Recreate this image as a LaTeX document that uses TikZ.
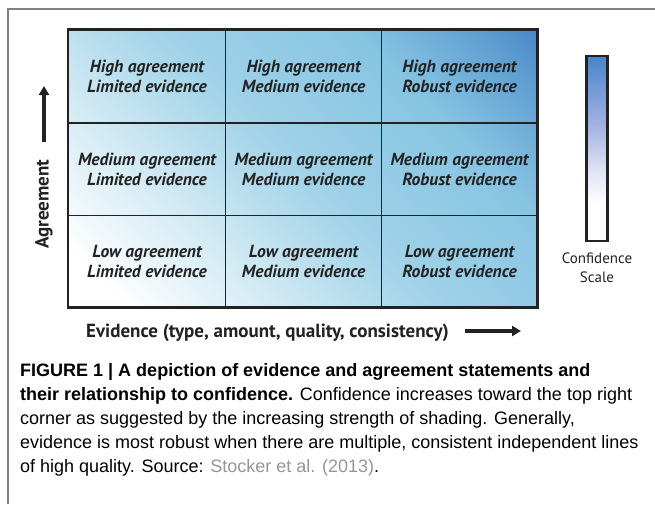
\documentclass[tikz,border=0pt]{standalone}
\usepackage{fontspec}
\setmainfont{Liberation Sans}
\newfontfamily\diagfont{PT Sans}
\usepackage{xcolor}
\usetikzlibrary{arrows.meta}

\definecolor{framegray}{RGB}{128,128,128}
\definecolor{inkdark}{RGB}{34,34,34}
\definecolor{shadeA}{RGB}{212,235,244}
\definecolor{shadeB}{RGB}{160,210,232}
\definecolor{shadeC}{RGB}{135,196,226}
\definecolor{shadeD}{RGB}{62,125,195}
\definecolor{barmid}{RGB}{165,178,226}
\definecolor{bartop}{RGB}{72,132,202}
\definecolor{srcgray}{RGB}{150,150,150}

\pgfdeclareverticalshading{confgrid}{100bp}{color(0bp)=(white); color(20bp)=(white); color(34bp)=(shadeA); color(50bp)=(shadeB); color(68bp)=(shadeC); color(80bp)=(shadeD!55!shadeC); color(88bp)=(shadeD); color(100bp)=(shadeD)}
\pgfdeclareverticalshading{confbar}{100bp}{color(0bp)=(white); color(35bp)=(white); color(45bp)=(barmid!40!white); color(56bp)=(barmid); color(75bp)=(bartop); color(100bp)=(bartop)}

\tikzset{
  cell/.style={font=\diagfont\bfseries\itshape\fontsize{17.5}{20}\selectfont, align=center, text=inkdark, inner sep=0},
  axislabel/.style={font=\diagfont\bfseries\fontsize{19}{22}\selectfont, text=inkdark, inner sep=0},
  scalelabel/.style={font=\diagfont\fontsize{15}{19}\selectfont, align=center, text=inkdark, inner sep=0},
  caption/.style={font=\fontsize{18}{24}\selectfont, align=left, inner sep=0},
  gridrule/.style={draw=inkdark, line width=1.3},
  gridframe/.style={draw=inkdark, line width=2.6},
  bigarrow/.style={->, draw=inkdark, line width=3.4},
}

\begin{document}
\begin{tikzpicture}[x=1pt, y=-1pt, >={Triangle[length=9pt, width=10pt]}]
        \useasboundingbox (0,0) rectangle (655,504);
        % outer frame
        \draw[framegray, line width=2] (7.5,504) -- (7.5,8.5) -- (655,8.5);
        % grid
        \coordinate (gridNW) at (68,29.5);
        \coordinate (gridSE) at (537.5,307.5);
		\shade[shading=confgrid, shading angle=-45] (gridNW) rectangle (gridSE);
		\draw[gridrule] (225.7,29.5) to (225.7,307.5);
		\draw[gridrule] (381.5,29.5) to (381.5,307.5);
		\draw[gridrule] (68,123) to (537.5,123);
		\draw[gridrule] (68,215.5) to (537.5,215.5);
		\draw[gridframe] (gridNW) rectangle (gridSE);
		\node[cell] (hiLim) at (147,76.5) {High agreement\\Limited evidence};
		\node[cell] (hiMed) at (303.6,76.5) {High agreement\\Medium evidence};
		\node[cell] (hiRob) at (459.5,76.5) {High agreement\\Robust evidence};
		\node[cell] (mdLim) at (147,169) {Medium agreement\\Limited evidence};
		\node[cell] (mdMed) at (303.6,169) {Medium agreement\\Medium evidence};
		\node[cell] (mdRob) at (459.5,169) {Medium agreement\\Robust evidence};
		\node[cell] (loLim) at (147,261.5) {Low agreement\\Limited evidence};
		\node[cell] (loMed) at (303.6,261.5) {Low agreement\\Medium evidence};
		\node[cell] (loRob) at (459.5,261.5) {Low agreement\\Robust evidence};
        % axes
		\node[axislabel, rotate=90] (agreeLabel) at (44,204) {Agreement};
		\coordinate (agreeFrom) at (44,142);
		\coordinate (agreeTo) at (44,86);
		\draw[bigarrow] (agreeFrom) to (agreeTo);
		\node[axislabel, anchor=base west] (evidLabel) at (86,337) {Evidence (type, amount, quality, consistency)};
		\coordinate (evidFrom) at (465,331);
		\coordinate (evidTo) at (521,331);
		\draw[bigarrow] (evidFrom) to (evidTo);
        % confidence scale
		\shade[shading=confbar] (586.5,56) rectangle (607.5,241);
		\draw[gridframe] (586.5,56) rectangle (607.5,241);
		\node[scalelabel] (confLabel) at (597,268) {Confidence\\Scale};
        % caption (base = last line)
		\node[caption, anchor=base west] (caption) at (20,472.5) {\textbf{FIGURE 1 | A depiction of evidence and agreement statements and}\\
		\textbf{their relationship to confidence.} Confidence increases toward the top right\\
		corner as suggested by the increasing strength of shading. Generally,\\
		evidence is most robust when there are multiple, consistent independent lines\\
		of high quality. Source: \textcolor{srcgray}{Stocker et al. (2013)}.};
    \end{tikzpicture}
\end{document}
